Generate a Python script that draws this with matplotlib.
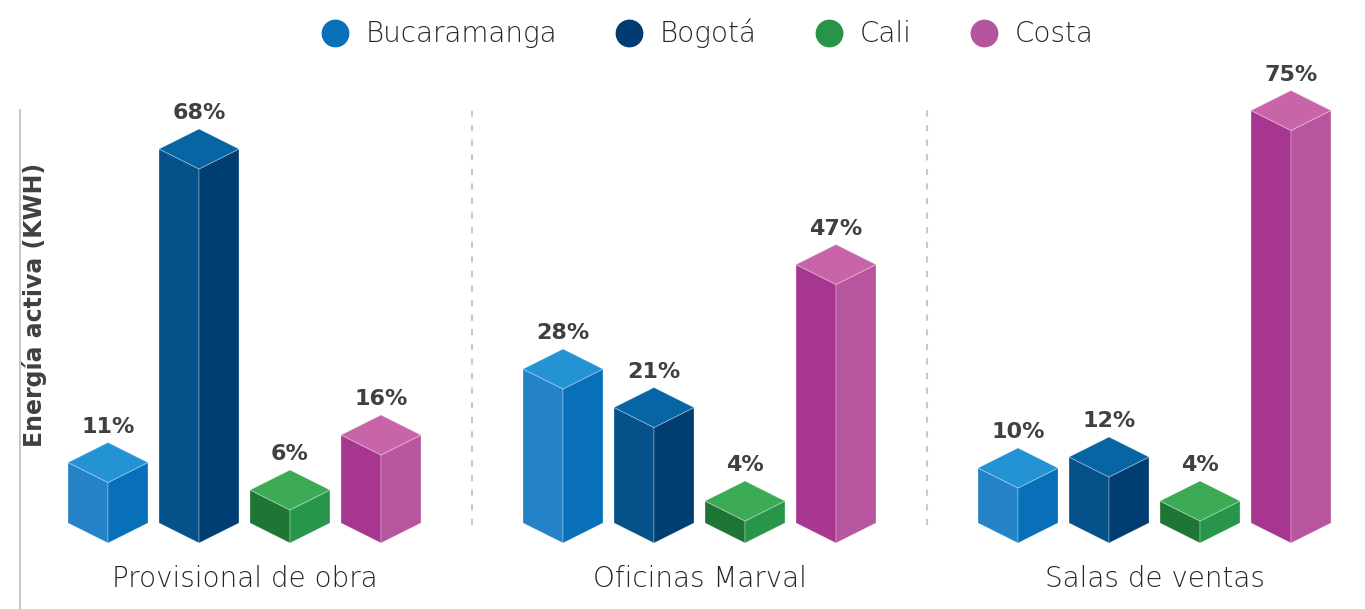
import matplotlib
matplotlib.use("Agg")
import matplotlib.pyplot as plt
from matplotlib.patches import Polygon
from matplotlib.lines import Line2D

# Datos: porcentaje de energía activa por sede y tipo de instalación
categorias = ["Provisional de obra", "Oficinas Marval", "Salas de ventas"]
ciudades = ["Bucaramanga", "Bogotá", "Cali", "Costa"]
bucaramanga = [11, 28, 10]
bogota = [68, 21, 12]
cali = [6, 4, 4]
costa = [16, 47, 75]
series = [bucaramanga, bogota, cali, costa]

# colores por ciudad: (superior, cara izquierda, cara derecha, leyenda)
colores = [
    ("#2393d4", "#2483c6", "#0870b8", "#0a70b8"),
    ("#0765a3", "#05528a", "#003d70", "#003c71"),
    ("#3dab55", "#1f7535", "#28964a", "#27944a"),
    ("#c865a8", "#a63690", "#b7559e", "#b5559e"),
]

W, H, DPI = 1365, 609, 100
PX_GRUPO = 455.0      # píxeles entre grupos
PX_POR_PCT = 5.5      # píxeles por punto porcentual
X0_PX = 244.5         # centro del primer grupo
Y0_PX = 66.0          # base de las barras desde abajo

sep_barra = 91 / PX_GRUPO
medio_ancho = 40 / PX_GRUPO
prof = 20 / PX_POR_PCT
texto = "#404040"
texto_fino = "#262626"

fig = plt.figure(figsize=(W / DPI, H / DPI), dpi=DPI)
ax = fig.add_axes([0, 0, 1, 1])
ax.set_xlim(-X0_PX / PX_GRUPO, (W - X0_PX) / PX_GRUPO)
ax.set_ylim(-Y0_PX / PX_POR_PCT, (H - Y0_PX) / PX_POR_PCT)
ax.axis("off")


def barra_3d(ax, cx, v, cols):
    w, d = medio_ancho, prof
    izq = [(cx - w, d), (cx, 0), (cx, v), (cx - w, v + d)]
    der = [(cx, 0), (cx + w, d), (cx + w, v + d), (cx, v)]
    sup = [(cx - w, v + d), (cx, v), (cx + w, v + d), (cx, v + 2 * d)]
    for pts, c in ((izq, cols[1]), (der, cols[2]), (sup, cols[0])):
        ax.add_patch(Polygon(pts, closed=True, facecolor=c,
                             edgecolor=(1, 1, 1, 0.35), linewidth=0.6))


for g, cat in enumerate(categorias):
    for i, serie in enumerate(series):
        cx = g + (i - 1.5) * sep_barra
        v = serie[g]
        barra_3d(ax, cx, v, colores[i])
        ax.annotate(f"{v}%", (cx, v + 2 * prof), xytext=(0, 4),
                    textcoords="offset points", ha="center", va="bottom",
                    fontsize=16, fontweight="bold", color=texto)
    ax.text(g, -6.5, cat, ha="center", va="center", fontsize=20,
            fontweight="light", color=texto_fino)

# separadores entre grupos
tope = (H - 110 - Y0_PX) / PX_POR_PCT
for xs in (0.5, 1.5):
    ax.plot([xs, xs], [(H - 525 - Y0_PX) / PX_POR_PCT, tope],
            color="#c8c8c8", lw=1.5, ls=(0, (3, 4)))

# eje vertical
xe = (20 - X0_PX) / PX_GRUPO
ax.plot([xe, xe], [-Y0_PX / PX_POR_PCT, tope], color="#c8c8c8", lw=1.5)
ax.text(xe + 15 / PX_GRUPO, (H - 305 - Y0_PX) / PX_POR_PCT,
        "Energía activa (KWH)", rotation=90, ha="center", va="center",
        fontsize=17, fontweight="bold", color=texto)

handles = [Line2D([], [], ls="none", marker="o", markersize=19,
                  markerfacecolor=c[3], markeredgecolor=c[3])
           for c in colores]
fig.legend(handles, ciudades, loc="upper center", ncol=4,
           bbox_to_anchor=(0.513, 1.01), frameon=False,
           prop={"weight": "light", "size": 20},
           handletextpad=0.1, columnspacing=1.6, labelcolor=texto_fino)

fig.savefig("out.png", dpi=DPI)
